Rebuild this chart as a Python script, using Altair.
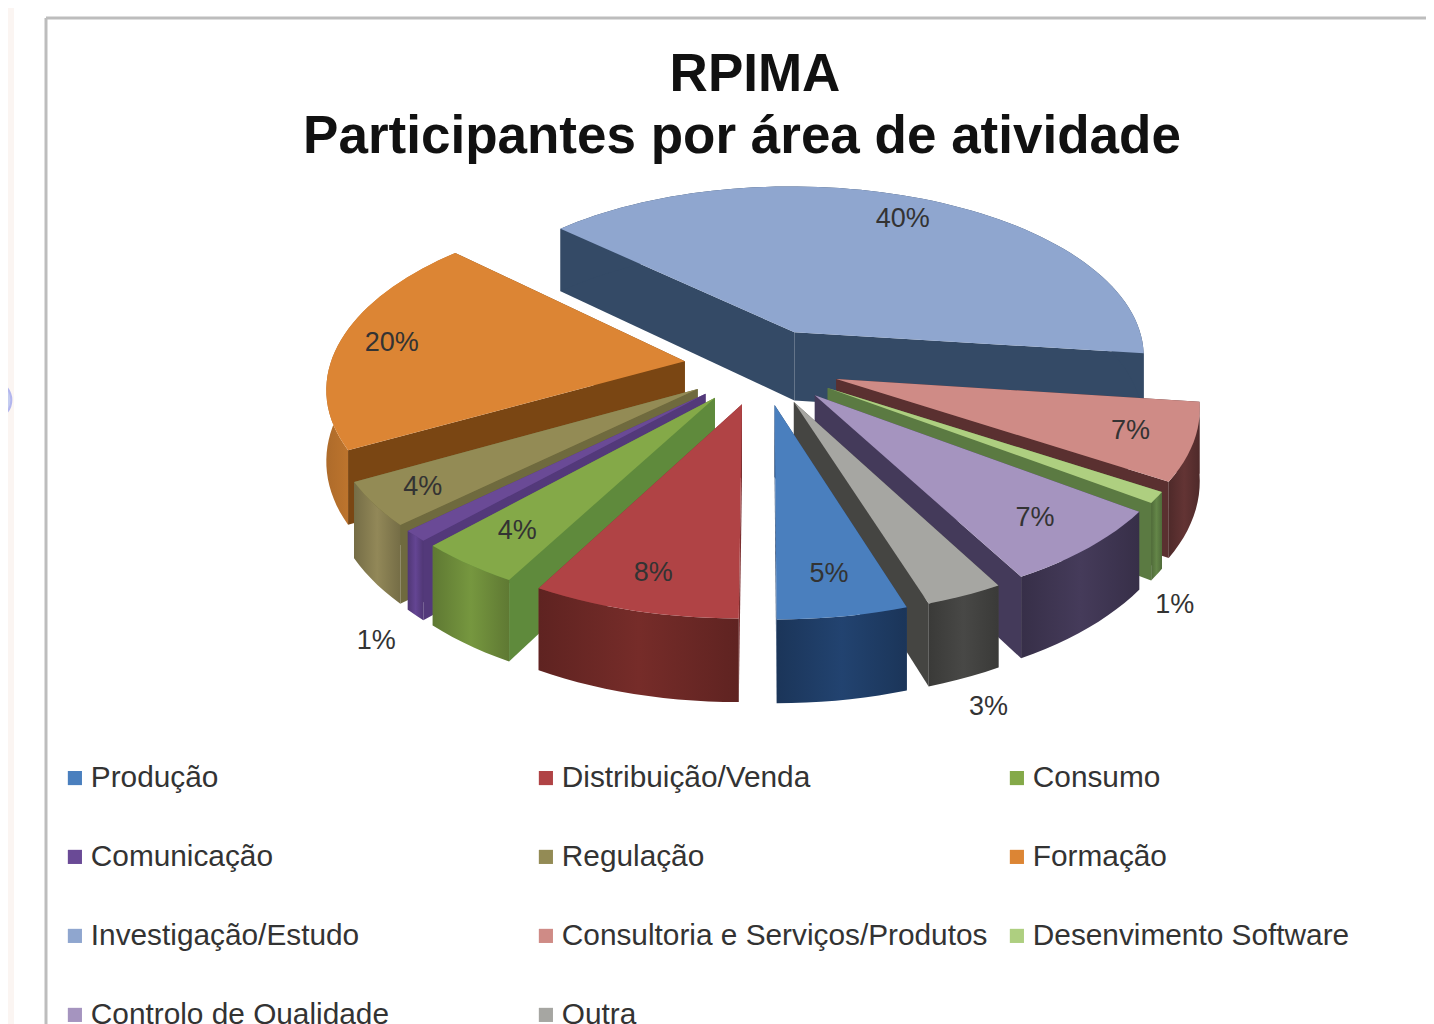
import math
import altair as alt
import pandas as pd

# --- chart values -----------------------------------------------------------
categories = ["Produção", "Distribuição/Venda", "Consumo", "Comunicação", "Regulação",
              "Formação", "Investigação/Estudo", "Consultoria e Serviços/Produtos",
              "Desenvimento Software", "Controlo de Qualidade", "Outra"]
shares = [5, 8, 4, 1, 4, 20, 40, 7, 1, 7, 3]
title_lines = ["RPIMA", "Participantes por área de atividade"]

# --- colours ----------------------------------------------------------------
top_colors = ["#4a7fbe", "#b04345", "#84a948", "#6a4a96", "#938b55", "#dc8534",
              "#8fa6cf", "#cf8b86", "#aecf80", "#a594bf", "#a6a6a2"]
wall_colors = ["#24426d", "#7c2f30", "#5f8a3c", "#53397a", "#6f6a3e", "#7a4613",
               "#344a66", "#5a3030", "#5b7a42", "#443a5a", "#454542"]
rim_colors = ["#1f3d66", "#6c2826", "#6c8a3a", "#5b3f86", "#857c50", "#c67a30",
              "#344a66", "#5a3030", "#5b7a42", "#3f3652", "#424240"]

# --- 3-D pie geometry -------------------------------------------------------
START = 162.0      # clock angle of first slice
EXPLODE = 0.22
CX, CY, RX, RY, PERSP, DEPTH = 762, 366, 355, 174, 0.135, 70
label_radius = [0.82, 0.84, 0.82, 1.12, 0.86, 0.85, 0.83, 0.83, 1.05, 0.82, 1.12]
label_drop = [0, 0, 0, 75, 0, 0, 0, 0, 92, 0, 70]
WIDTH, HEIGHT = 1418, 1016
TITLE_X, TITLE_Y = [755, 742], [75, 137]


def project(u, v, z=0.0):
    s = 1.0 / (1.0 + PERSP * v)
    return CX + RX * u * s, CY - RY * v * s + z * s


def polar(deg):
    a = math.radians(deg)
    return math.sin(a), math.cos(a)


def face(points, key):
    return pd.DataFrame([{"px": p[0], "py": p[1], "i": n, "key": key} for n, p in enumerate(points)])


def shade(hex_color, f):
    r, g, b = (int(hex_color[j:j + 2], 16) for j in (1, 3, 5))
    return "#%02x%02x%02x" % (min(255, int(r * f)), min(255, int(g * f)), min(255, int(b * f)))


x_scale = alt.Scale(domain=[8, 8 + WIDTH], nice=False, zero=False)
y_scale = alt.Scale(domain=[8 + HEIGHT, 8], nice=False, zero=False)
X = alt.X("px:Q", scale=x_scale, axis=None)
Y = alt.Y("py:Q", scale=y_scale, axis=None)


def poly(df, fill):
    return alt.Chart(df).mark_line(fill=fill, strokeWidth=0).encode(x=X, y=Y, order="i:Q")


angle = START
slices = []
for idx, share in enumerate(shares):
    sweep = share * 3.6
    mid = angle + sweep / 2
    mu, mv = polar(mid)
    ax, ay = EXPLODE * mu, EXPLODE * mv
    n = max(3, int(sweep / 2))
    arc = []
    for j in range(n + 1):
        u, v = polar(angle + sweep * j / n)
        arc.append((ax + u, ay + v))
    slices.append(dict(idx=idx, mid=mid, ax=ax, ay=ay, arc=arc,
                       depth=sum(p[1] for p in arc) / len(arc) + ay))
    angle += sweep

layers = []
# legend carrier
legend_df = pd.DataFrame({"name": categories, "share": shares, "px": [CX] * len(shares), "py": [CY] * len(shares)})
layers.append(
    alt.Chart(legend_df).mark_square(size=1, opacity=1).encode(
        x=X, y=Y,
        fill=alt.Fill("name:N", scale=alt.Scale(domain=categories, range=top_colors),
                      legend=alt.Legend(title=None, orient="none", legendX=52, legendY=755, columns=3,
                                        direction="horizontal",
                                        gridAlign="all", columnPadding=14, rowPadding=48,
                                        symbolType="square", symbolSize=200, symbolStrokeWidth=0,
                                        symbolOffset=0, labelFont="Liberation Sans", labelFontSize=29.8,
                                        labelColor="#333333", labelOffset=1, labelLimit=520,
                                        symbolOpacity=1))
    )
)

for sl in sorted(slices, key=lambda q: -q["depth"]):
    k = sl["idx"]
    apex = (sl["ax"], sl["ay"])
    a0, a1 = sl["arc"][0], sl["arc"][-1]
    faces = []
    for end, tag in ((a0, "a"), (a1, "b")):
        pts = [project(*apex), project(*end), project(*end, DEPTH), project(*apex, DEPTH)]
        faces.append(((apex[1] + end[1]) / 2, pts, wall_colors[k], f"w{k}{tag}"))
    rim = [project(*p) for p in sl["arc"]] + [project(*p, DEPTH) for p in reversed(sl["arc"])]
    rim_fill = rim_colors[k] if k == 6 else alt.LinearGradient(
        gradient="linear", x1=0, x2=1, y1=0, y2=0, stops=[
            alt.GradientStop(color=shade(rim_colors[k], 0.88), offset=0),
            alt.GradientStop(color=shade(rim_colors[k], 1.1), offset=0.5),
            alt.GradientStop(color=shade(rim_colors[k], 0.88), offset=1)])
    faces.append((min(p[1] for p in sl["arc"]), rim, rim_fill, f"r{k}"))
    for _, pts, fill, key in sorted(faces, key=lambda q: -q[0]):
        layers.append(poly(face(pts, key), fill))
    top = [project(*apex)] + [project(*p) for p in sl["arc"]]
    layers.append(poly(face(top, f"t{k}"), top_colors[k]))

# percent labels
rows = []
for sl in slices:
    k = sl["idx"]
    mu, mv = polar(sl["mid"])
    r = label_radius[k]
    lx, ly = project(sl["ax"] + r * mu, sl["ay"] + r * mv, label_drop[k])
    rows.append({"px": lx, "py": ly, "label": f"{shares[k]}%"})
layers.append(
    alt.Chart(pd.DataFrame(rows)).mark_text(font="Liberation Sans", fontSize=27, color="#333333").encode(
        x=X, y=Y, text="label:N")
)

# title lines
layers.append(
    alt.Chart(pd.DataFrame({"px": TITLE_X, "py": TITLE_Y, "label": title_lines})).mark_text(
        font="Liberation Sans", fontSize=53, fontWeight="bold", color="#111111", baseline="middle"
    ).encode(x=X, y=Y, text="label:N")
)

# page furniture
frame_color = "#bdbdbd"
furniture = [
    alt.Chart(pd.DataFrame({"a": [0]})).mark_rule(color=frame_color, strokeWidth=3).encode(
        x=alt.value(38), y=alt.value(10), y2=alt.value(HEIGHT)),
    alt.Chart(pd.DataFrame({"a": [0]})).mark_rule(color=frame_color, strokeWidth=3).encode(
        x=alt.value(38), x2=alt.value(WIDTH), y=alt.value(10)),
    alt.Chart(pd.DataFrame({"a": [0]})).mark_rule(color="#fbf5f2", strokeWidth=6).encode(
        x=alt.value(3), y=alt.value(0), y2=alt.value(HEIGHT)),
    alt.Chart(pd.DataFrame({"px": [-8], "py": [400]})).mark_circle(
        size=1500, color="#c5cdf0", opacity=1, stroke="#b3b6ee", strokeWidth=2).encode(x=X, y=Y),
]

chart = alt.layer(*furniture, *layers).properties(
    width=WIDTH, height=HEIGHT,
    padding=0,
    autosize=alt.AutoSizeParams(type="none"),
).configure_view(stroke=None)

chart.save("out.html", embed_options={"renderer": "svg", "actions": False})
